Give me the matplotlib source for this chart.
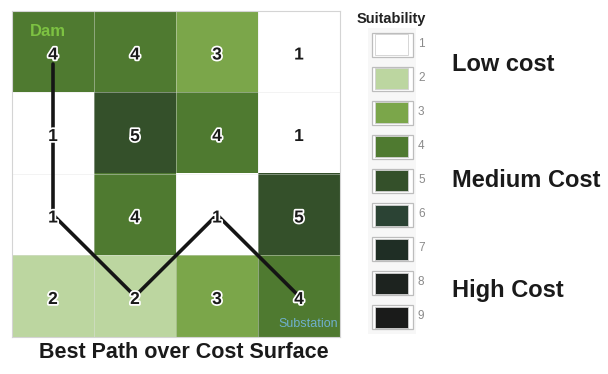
import numpy as np
import matplotlib.pyplot as plt
import matplotlib.patheffects as pe
from matplotlib.colors import ListedColormap, BoundaryNorm
from matplotlib.patches import Rectangle

plt.rcParams['font.family'] = ['Liberation Sans', 'DejaVu Sans']

# Cost surface (rows top -> bottom)
grid = np.array([
    [4, 4, 3, 1],
    [1, 5, 4, 1],
    [1, 4, 1, 5],
    [2, 2, 3, 4],
])

# Best path as (row, col) cells
path_rows = [0, 2, 3, 2, 3]
path_cols = [0, 0, 1, 2, 3]

levels = [1, 2, 3, 4, 5, 6, 7, 8, 9]
level_colors = ['#ffffff', '#bcd6a0', '#7ba64a', '#4f7a30', '#34502a',
                '#2b4334', '#1f2e25', '#1d231f', '#1a1b1a']
cost_labels = ['Low cost', 'Medium Cost', 'High Cost']
cost_label_levels = [1.6, 5, 8.2]

W, H = 608, 374
fig = plt.figure(figsize=(W / 100, H / 100), dpi=100)
fig.patch.set_facecolor('white')

# grid axes
ax = fig.add_axes([12 / W, (H - 337) / H, 328 / W, 326 / H])
cmap = ListedColormap(level_colors)
norm = BoundaryNorm(np.arange(0.5, 10.5, 1), cmap.N)
ax.imshow(grid, cmap=cmap, norm=norm, extent=(-0.5, 3.5, 3.5, -0.5),
          interpolation='nearest', aspect='auto')
ax.set_xlim(-0.5, 3.5)
ax.set_ylim(3.5, -0.5)
for k in np.arange(0.5, 3.5, 1):
    ax.axhline(k, color='#e4e4e4', lw=0.6, alpha=0.5)
    ax.axvline(k, color='#e4e4e4', lw=0.6, alpha=0.5)
ax.set_xticks([])
ax.set_yticks([])
for s in ax.spines.values():
    s.set_color('#d4d4d4')
    s.set_linewidth(0.8)

# path
py = np.array(path_rows, dtype=float)
px = np.array(path_cols, dtype=float)
py[0] += 0.15
ax.plot(px, py, color='#151515', lw=2.6, solid_capstyle='round',
        solid_joinstyle='miter', zorder=3)

for r in range(grid.shape[0]):
    for c in range(grid.shape[1]):
        ax.text(c, r + 0.04, str(grid[r, c]), ha='center', va='center',
                fontsize=12.5, fontweight='bold', color='#1a1a1a', zorder=4,
                path_effects=[pe.withStroke(linewidth=2.5, foreground='white')])

ax.text(-0.28, -0.25, 'Dam', ha='left', va='center', fontsize=12,
        fontweight='bold', color='#7dc242', zorder=4)
ax.text(3.48, 3.34, 'Substation', ha='right', va='center', fontsize=9,
        color='#6fb0cc', zorder=4)

fig.text(184 / W, 1 - 353 / H, 'Best Path over Cost Surface', ha='center',
         va='center', fontsize=15.5, fontweight='bold', color='#1a1a1a')

# legend axes (pixel-like coordinates)
lx = fig.add_axes([350 / W, 0, 258 / W, 1])
lx.set_xlim(0, 258)
lx.set_ylim(374, 0)
lx.axis('off')
lx.text(7, 19, 'Suitability', ha='left', va='center', fontsize=10.5,
        fontweight='bold', color='#222222')
lx.add_patch(Rectangle((18, 28), 48, 306, facecolor='#f7f7f7',
                       edgecolor='none', zorder=0))
step = 34.1
for i, (lv, col) in enumerate(zip(levels, level_colors)):
    yc = 44.5 + i * step
    lx.add_patch(Rectangle((22, yc - 12), 41, 24, facecolor='white',
                           edgecolor='#bdbdbd', lw=0.9, zorder=1))
    lx.add_patch(Rectangle((25, yc - 10.5), 33, 21, facecolor=col,
                           edgecolor='#d0d0d0', lw=0.6, zorder=2))
    lx.text(68, yc - 1, str(lv), ha='left', va='center', fontsize=8.5,
            color='#8a8a8a')
for lab, lv in zip(cost_labels, cost_label_levels):
    yc = 44.5 + (lv - 1) * step
    lx.text(102, yc, lab, ha='left', va='center', fontsize=17,
            fontweight='bold', color='#1a1a1a')

fig.savefig('out.png', dpi=100)
